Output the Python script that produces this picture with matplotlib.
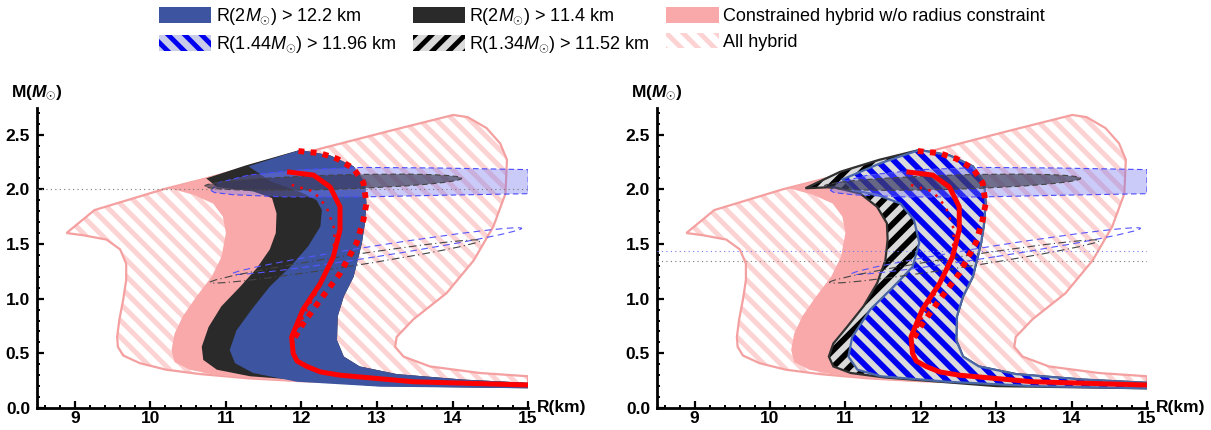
import numpy as np
import matplotlib.pyplot as plt
from matplotlib.patches import Polygon, Ellipse, Patch
from matplotlib.ticker import MultipleLocator

plt.rcParams['font.family'] = ['Liberation Sans', 'DejaVu Sans']
plt.rcParams['mathtext.fontset'] = 'custom'
plt.rcParams['mathtext.rm'] = 'Liberation Sans'
plt.rcParams['mathtext.it'] = 'Liberation Sans:italic'
plt.rcParams['mathtext.bf'] = 'Liberation Sans:bold'
plt.rcParams['mathtext.bfit'] = 'Liberation Sans:bold:italic'

# ---------------- data (R in km, M in Msun) ----------------
# all hybrid region (outline + pink hatch)
all_R = [8.89, 9.26, 10.17, 11.2, 12.3, 13.2, 14.01, 14.2, 14.45, 14.63, 14.72, 14.70, 14.54, 14.28,
         13.92, 13.48, 13.26, 13.24, 13.35, 13.70, 14.36, 15.0, 15.0, 14.0, 13.0, 12.0, 11.32,
         10.66, 10.21, 9.86, 9.64, 9.57, 9.56, 9.59, 9.64, 9.68, 9.68, 9.60, 9.42, 9.11]
all_M = [1.60, 1.81, 2.00, 2.18, 2.38, 2.54, 2.68, 2.66, 2.56, 2.42, 2.27, 1.96, 1.66, 1.35,
         1.05, 0.81, 0.65, 0.56, 0.47, 0.38, 0.32, 0.29, 0.20, 0.21, 0.225, 0.245, 0.27,
         0.31, 0.35, 0.41, 0.48, 0.56, 0.65, 0.81, 0.99, 1.17, 1.32, 1.45, 1.54, 1.58]

# constrained hybrid w/o radius constraint (solid pink)
pink_R = [10.25, 10.57, 10.83, 10.96, 11.0, 10.94, 10.81, 10.61, 10.43, 10.32, 10.28, 10.32,
          10.52, 10.88, 11.5, 12.5, 13.5, 15.0, 15.0, 14.14, 13.26, 12.77, 12.56, 12.47, 12.48,
          12.56, 12.69, 12.80, 12.84, 12.86, 12.84, 12.69, 12.38, 11.98, 11.2, 10.6]
pink_M = [2.01, 1.95, 1.87, 1.75, 1.60, 1.38, 1.20, 1.02, 0.84, 0.68, 0.53, 0.42,
          0.35, 0.30, 0.26, 0.23, 0.215, 0.205, 0.23, 0.26, 0.31, 0.38, 0.47, 0.62, 0.84,
          1.02, 1.20, 1.51, 1.69, 1.87, 2.06, 2.21, 2.31, 2.36, 2.20, 2.08]

# blue region right boundary (shared by solid and hatched cases)
bright_R = [11.98, 12.38, 12.69, 12.84, 12.86, 12.84, 12.80, 12.69, 12.56, 12.48, 12.47, 12.56,
            12.77, 13.26, 14.14, 15.0]
bright_M = [2.36, 2.31, 2.21, 2.06, 1.87, 1.69, 1.51, 1.20, 1.02, 0.84, 0.62, 0.47,
            0.38, 0.31, 0.26, 0.23]

# R(2M) > 11.4 km (solid black): top edge + left/bottom boundary
blk_top_R = [10.74, 11.27]
blk_top_M = [2.10, 2.22]
blk_low_R = [15.0, 13.0, 11.89, 11.32, 10.88, 10.70, 10.68, 10.77, 10.94, 11.19, 11.41, 11.58,
             11.66, 11.67, 11.61, 11.36, 10.88]
blk_low_M = [0.18, 0.20, 0.26, 0.29, 0.35, 0.44, 0.56, 0.74, 0.93, 1.11, 1.28, 1.45,
             1.60, 1.78, 1.92, 1.98, 2.02]

# R(2M) > 12.2 km (solid blue): left/bottom boundary
blu_low_R = [15.0, 13.04, 11.94, 11.36, 11.12, 11.05, 11.14, 11.34, 11.58, 11.85, 12.09, 12.25,
             12.27, 12.20, 12.0, 11.6, 11.30]
blu_low_M = [0.18, 0.195, 0.24, 0.32, 0.41, 0.53, 0.71, 0.90, 1.11, 1.29, 1.48, 1.66,
             1.81, 1.90, 1.97, 2.07, 2.21]

# R(1.34M) > 11.52 km (black hatched): top edge + left/bottom boundary
bh_top_R = [10.47, 10.93, 11.45]
bh_top_M = [2.01, 2.16, 2.27]
bh_low_R = [15.0, 13.0, 11.51, 11.07, 10.84, 10.78, 10.84, 11.02, 11.24, 11.42, 11.53, 11.56,
            11.55, 11.42, 11.20, 10.84]
bh_low_M = [0.18, 0.20, 0.28, 0.32, 0.38, 0.47, 0.59, 0.74, 0.93, 1.14, 1.35, 1.54,
            1.69, 1.84, 1.96, 2.02]

# R(1.44M) > 11.96 km (blue hatched): top edge + left/bottom boundary
bbh_top_R = [10.96, 11.47]
bbh_top_M = [2.09, 2.24]
bbh_low_R = [15.0, 13.5, 12.36, 11.47, 11.16, 11.04, 11.09, 11.33, 11.64, 11.89, 11.98, 11.91,
             11.73, 11.42, 11.11]
bbh_low_M = [0.18, 0.20, 0.24, 0.29, 0.35, 0.47, 0.65, 0.90, 1.11, 1.29, 1.51, 1.72,
             1.87, 1.95, 1.99]

# 2 Msun measurement band and ellipses
band_R = [10.80, 10.9, 11.3, 12.0, 12.8, 13.8, 15.0, 15.0, 13.8, 12.8, 11.8, 11.1, 10.85]
band_M = [1.99, 2.06, 2.13, 2.18, 2.20, 2.195, 2.18, 1.96, 1.945, 1.93, 1.93, 1.95, 1.97]
grey_ell = [12.42, 2.065, 3.40, 0.13, 1.2]     # centre R, centre M, width, height, angle
blue_ell = [13.00, 1.435, 3.85, 0.10, 6.2]
black_ell = [12.58, 1.34, 3.60, 0.10, 6.1]

# red mass-radius curves
red_R = [11.81, 12.16, 12.38, 12.51, 12.51, 12.42, 12.25, 12.02, 11.87, 11.89, 11.94, 12.07,
         12.25, 12.51, 13.48, 15.0]
red_M = [2.16, 2.13, 2.02, 1.84, 1.63, 1.38, 1.14, 0.90, 0.65, 0.50, 0.43, 0.38,
         0.33, 0.30, 0.24, 0.21]
rdot_R = [11.96, 12.25, 12.47, 12.69, 12.82, 12.86, 12.82, 12.73, 12.51, 12.25, 12.02, 11.89]
rdot_M = [2.35, 2.33, 2.28, 2.19, 2.06, 1.87, 1.72, 1.51, 1.23, 0.99, 0.77, 0.62]
rdash_R = [11.87, 12.16, 12.33, 12.44, 12.42, 12.29, 12.07, 11.93]
rdash_M = [2.04, 1.98, 1.84, 1.63, 1.38, 1.17, 0.90, 0.70]

labels = [r'R(2$M_{\odot}$) > 12.2 km', r'R(1.44$M_{\odot}$) > 11.96 km',
          r'R(2$M_{\odot}$) > 11.4 km', r'R(1.34$M_{\odot}$) > 11.52 km',
          'Constrained hybrid w/o radius constraint', 'All hybrid']

PINK = '#f9a9a9'
PINK_LINE = '#f5a0a0'
PINK_HATCH = '#fdd2d2'
BLUE = '#3d55a0'
DARK = '#2a2a2a'
STRIPE_BG = '#dadada'


def poly(R, M):
    return np.column_stack([R, M])


def add_fill(ax, xy, z, fc, hatch=None, hc='none', hlw=1.0, alpha=1.0):
    plt.rcParams['hatch.linewidth'] = hlw
    p = Polygon(xy, closed=True, facecolor=fc, edgecolor=hc, hatch=hatch, lw=0,
                alpha=alpha, zorder=z)
    ax.add_patch(p)
    return p


def add_line(ax, xy, z, color, lw, ls='-'):
    ax.add_patch(Polygon(xy, closed=True, fill=False, edgecolor=color, lw=lw, ls=ls, zorder=z))


def common(ax):
    # all hybrid
    xy = poly(all_R, all_M)
    add_fill(ax, xy, 1, 'white', hatch='\\\\', hc=PINK_HATCH, hlw=3.6)
    add_line(ax, xy, 1.5, PINK_LINE, 1.6)
    # constrained hybrid
    add_fill(ax, poly(pink_R, pink_M), 2, PINK)


def overlays(ax):
    add_fill(ax, poly(band_R, band_M), 5, '#7878f0', alpha=0.38)
    add_line(ax, poly(band_R, band_M), 5.1, '#4a4aff', 0.8, ls=(0, (5, 3)))
    for e, fc, ec, ls in [(grey_ell, (0.2, 0.2, 0.28, 0.6), '#444444', (0, (5, 3))),
                          (blue_ell, 'none', '#5555ff', (0, (6, 4))),
                          (black_ell, 'none', '#444444', (0, (7, 3, 1, 3)))]:
        ax.add_patch(Ellipse((e[0], e[1]), e[2], e[3], angle=e[4], facecolor=fc,
                             edgecolor=ec, lw=0.8, ls=ls, zorder=6))
    ax.plot(red_R, red_M, color='red', lw=3.6, zorder=9, solid_capstyle='butt')
    ax.plot(rdot_R, rdot_M, color='red', lw=4.2, ls=(0, (1, 1.1)), zorder=9)
    ax.plot(rdash_R, rdash_M, color='red', lw=1.8, ls=(0, (1, 2.6)), zorder=9)


def style(ax):
    ax.set_xlim(8.5, 15)
    ax.set_ylim(0, 2.745)
    for s in ['top', 'right']:
        ax.spines[s].set_visible(False)
    for s in ['left', 'bottom']:
        ax.spines[s].set_linewidth(2.0)
    ax.xaxis.set_major_locator(MultipleLocator(1))
    ax.xaxis.set_minor_locator(MultipleLocator(0.2))
    ax.yaxis.set_major_locator(MultipleLocator(0.5))
    ax.yaxis.set_minor_locator(MultipleLocator(0.1))
    ax.tick_params(which='major', direction='in', length=5, width=1.6, labelsize=12.5)
    ax.tick_params(which='minor', direction='in', length=2.5, width=1.4)
    ax.tick_params(axis='x', pad=2)
    ax.tick_params(axis='y', pad=5)
    ax.set_xticks([9, 10, 11, 12, 13, 14, 15])
    ax.set_yticks([0, 0.5, 1.0, 1.5, 2.0, 2.5])
    ax.set_yticklabels(['0.0', '0.5', '1.0', '1.5', '2.0', '2.5'])
    for lab in ax.get_xticklabels() + ax.get_yticklabels():
        lab.set_fontweight('bold')
    ax.text(1.018, 0.0, 'R(km)', transform=ax.transAxes, ha='left', va='center',
            fontsize=12.5, fontweight='bold')
    ax.text(0.0, 1.05, r'M($\mathbfit{M}_{\odot}$)', transform=ax.transAxes, ha='center',
            va='center', fontsize=12.5, fontweight='bold')


fig = plt.figure(figsize=(12.11, 4.30), dpi=100)
ax1 = fig.add_axes([0.0306, 0.0512, 0.4055, 0.698])
ax2 = fig.add_axes([0.5425, 0.0512, 0.4046, 0.698])

# ---- left panel ----
common(ax1)
add_fill(ax1, poly(blk_top_R + bright_R + blk_low_R, blk_top_M + bright_M + blk_low_M), 3, DARK)
add_fill(ax1, poly(bright_R + blu_low_R, bright_M + blu_low_M), 4, BLUE)
ax1.plot([8.5, 15], [2.0, 2.0], color='#777777', lw=0.8, ls=(0, (1, 3)), zorder=5.5)
overlays(ax1)
style(ax1)

# ---- right panel ----
common(ax2)
bh = poly(bh_top_R + bright_R + bh_low_R, bh_top_M + bright_M + bh_low_M)
add_fill(ax2, bh, 3, STRIPE_BG, hatch='//', hc='black', hlw=4.2)
add_line(ax2, bh, 3.1, '#303030', 1.6)
bbh = poly(bbh_top_R + bright_R + bbh_low_R, bbh_top_M + bright_M + bbh_low_M)
add_fill(ax2, bbh, 4, STRIPE_BG, hatch='\\\\', hc='#0000f0', hlw=4.2)
add_line(ax2, bbh, 4.1, '#4a68a8', 1.6)
ax2.plot([8.5, 15], [1.44, 1.44], color='#7777ee', lw=0.8, ls=(0, (1, 3)), zorder=7)
ax2.plot([8.5, 15], [1.34, 1.34], color='#777777', lw=0.8, ls=(0, (1, 3)), zorder=7)
overlays(ax2)
style(ax2)

# ---- legend ----
plt.rcParams['hatch.linewidth'] = 3.5
handles = [Patch(facecolor=BLUE, edgecolor='none'),
           Patch(facecolor='#c8cce8', edgecolor='#0000f0', hatch='\\\\', lw=0),
           Patch(facecolor=DARK, edgecolor='none'),
           Patch(facecolor=STRIPE_BG, edgecolor='black', hatch='//', lw=0),
           Patch(facecolor=PINK, edgecolor='none'),
           Patch(facecolor='white', edgecolor=PINK_HATCH, hatch='\\\\', lw=0)]
fig.legend(handles, labels, ncol=3, loc='upper center', bbox_to_anchor=(0.497, 1.01),
           frameon=False, fontsize=13, handlelength=2.9, handleheight=0.95,
           handletextpad=0.25, columnspacing=0.9, labelspacing=0.42, borderaxespad=0.2)

fig.savefig('out.png', dpi=100)
